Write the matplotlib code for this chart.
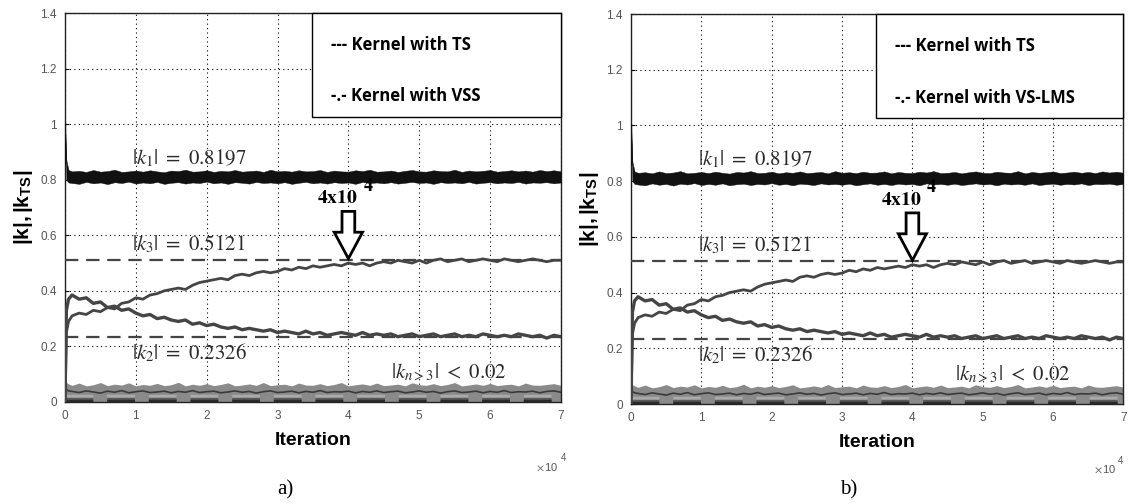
import matplotlib
matplotlib.use("Agg")
import matplotlib.pyplot as plt
from matplotlib.patches import FancyArrow
import numpy as np

plt.rcParams['font.family'] = ['Liberation Sans', 'DejaVu Sans']
plt.rcParams['mathtext.fontset'] = 'custom'
plt.rcParams['mathtext.rm'] = 'STIXGeneral'
plt.rcParams['mathtext.it'] = 'STIXGeneral:italic'
plt.rcParams['mathtext.bf'] = 'STIXGeneral:bold'
plt.rcParams['mathtext.sf'] = 'Liberation Sans:bold'

# iterations in units of 10^4
iters = [0.0, 0.02, 0.05] + [round(0.1 * i, 1) for i in range(1, 71)]

k1_upper = [1.00, 0.87, 0.835,
            0.830, 0.832, 0.828, 0.835, 0.829, 0.831, 0.836, 0.828, 0.830, 0.833,
            0.829, 0.834, 0.830, 0.827, 0.833, 0.831, 0.836, 0.829, 0.830, 0.834,
            0.828, 0.832, 0.830, 0.835, 0.829, 0.831, 0.833, 0.828, 0.836, 0.830,
            0.832, 0.829, 0.834, 0.830, 0.831, 0.835, 0.828, 0.833, 0.830, 0.829,
            0.834, 0.831, 0.836, 0.829, 0.830, 0.833, 0.828, 0.832, 0.835, 0.830,
            0.829, 0.834, 0.831, 0.830, 0.836, 0.828, 0.833, 0.830, 0.832, 0.835,
            0.829, 0.831, 0.834, 0.830, 0.833, 0.829, 0.835, 0.831, 0.834, 0.830]
k1_lower = [0.98, 0.80, 0.790,
            0.788, 0.785, 0.792, 0.787, 0.790, 0.784, 0.791, 0.788, 0.793, 0.786,
            0.790, 0.787, 0.792, 0.785, 0.789, 0.791, 0.786, 0.790, 0.788, 0.793,
            0.787, 0.790, 0.785, 0.791, 0.789, 0.786, 0.792, 0.788, 0.790, 0.787,
            0.791, 0.785, 0.789, 0.792, 0.787, 0.790, 0.786, 0.791, 0.788, 0.790,
            0.785, 0.792, 0.788, 0.790, 0.787, 0.791, 0.786, 0.789, 0.792, 0.788,
            0.790, 0.785, 0.791, 0.788, 0.790, 0.787, 0.792, 0.786, 0.789, 0.791,
            0.787, 0.790, 0.788, 0.792, 0.786, 0.790, 0.789, 0.791, 0.787, 0.790]

k3_est = [0.0, 0.25, 0.29,
          0.310, 0.320, 0.315, 0.330, 0.325, 0.340, 0.335, 0.355, 0.360, 0.375,
          0.370, 0.385, 0.390, 0.400, 0.405, 0.410, 0.405, 0.420, 0.430, 0.435,
          0.440, 0.445, 0.440, 0.455, 0.460, 0.455, 0.465, 0.470, 0.465, 0.470,
          0.480, 0.475, 0.485, 0.480, 0.490, 0.485, 0.490, 0.495, 0.490, 0.500,
          0.495, 0.500, 0.490, 0.500, 0.505, 0.500, 0.510, 0.505, 0.500, 0.510,
          0.500, 0.510, 0.515, 0.505, 0.510, 0.515, 0.505, 0.510, 0.515, 0.510,
          0.505, 0.515, 0.510, 0.505, 0.510, 0.515, 0.510, 0.505, 0.510, 0.510]

k2_est = [0.0, 0.33, 0.37,
          0.385, 0.370, 0.375, 0.355, 0.360, 0.340, 0.345, 0.330, 0.335, 0.320,
          0.310, 0.315, 0.300, 0.305, 0.295, 0.290, 0.295, 0.280, 0.285, 0.275,
          0.280, 0.270, 0.265, 0.270, 0.260, 0.265, 0.260, 0.255, 0.260, 0.250,
          0.255, 0.250, 0.245, 0.255, 0.245, 0.250, 0.240, 0.245, 0.250, 0.245,
          0.240, 0.250, 0.240, 0.245, 0.240, 0.245, 0.235, 0.240, 0.245, 0.235,
          0.240, 0.245, 0.235, 0.240, 0.245, 0.235, 0.240, 0.235, 0.245, 0.240,
          0.235, 0.240, 0.235, 0.245, 0.240, 0.235, 0.240, 0.230, 0.240, 0.235]

small_upper = [0.12, 0.07, 0.065,
               0.060, 0.068, 0.058, 0.062, 0.070, 0.059, 0.064, 0.061, 0.069, 0.058,
               0.063, 0.060, 0.067, 0.059, 0.062, 0.071, 0.058, 0.064, 0.060, 0.066,
               0.059, 0.063, 0.069, 0.058, 0.061, 0.065, 0.060, 0.070, 0.059, 0.062,
               0.064, 0.058, 0.068, 0.061, 0.060, 0.066, 0.059, 0.063, 0.070, 0.058,
               0.062, 0.065, 0.060, 0.068, 0.059, 0.061, 0.064, 0.058, 0.069, 0.062,
               0.060, 0.066, 0.059, 0.063, 0.070, 0.058, 0.061, 0.065, 0.060, 0.067,
               0.059, 0.062, 0.064, 0.058, 0.068, 0.061, 0.060, 0.063, 0.066, 0.060]
small_mid = [0.10, 0.045, 0.040,
             0.038, 0.034, 0.040, 0.036, 0.032, 0.039, 0.035, 0.041, 0.033, 0.037,
             0.040, 0.034, 0.036, 0.039, 0.033, 0.038, 0.035, 0.041, 0.034, 0.037,
             0.039, 0.033, 0.036, 0.040, 0.035, 0.038, 0.032, 0.037, 0.040, 0.034,
             0.036, 0.039, 0.033, 0.038, 0.035, 0.041, 0.034, 0.037, 0.036, 0.039,
             0.033, 0.038, 0.035, 0.040, 0.034, 0.037, 0.039, 0.033, 0.036, 0.040,
             0.035, 0.038, 0.032, 0.037, 0.040, 0.034, 0.036, 0.039, 0.033, 0.038,
             0.035, 0.041, 0.034, 0.037, 0.036, 0.039, 0.033, 0.038, 0.040, 0.035]

k_true = [0.8197, 0.5121, 0.2326]
small_levels = [0.022, 0.012, 0.004]

yticks = [0, 0.2, 0.4, 0.6, 0.8, 1.0, 1.2, 1.4]
ytick_labels = ['0', '0.2', '0.4', '0.6', '0.8', '1', '1.2', '1.4']
xticks = [0, 1, 2, 3, 4, 5, 6, 7]

legend_lines = ['--- Kernel with TS', ['-.- Kernel with VSS', '-.- Kernel with VS-LMS']]
captions = ['a)', 'b)']

fig = plt.figure(figsize=(11.28, 5.04), dpi=100)
positions = [[0.0576, 0.2024, 0.4397, 0.7718], [0.5594, 0.1984, 0.4366, 0.7738]]

tick_color = '#555555'
for p, pos in enumerate(positions):
    ax = fig.add_axes(pos)
    ax.set_xlim(0, 7)
    ax.set_ylim(0, 1.4)
    ax.set_xticks(xticks)
    ax.set_yticks(yticks)
    ax.set_yticklabels(ytick_labels)
    ax.tick_params(labelsize=8.5, labelcolor=tick_color, length=3, direction='in', pad=6)
    ax.grid(True, color='black', linestyle=(0, (1, 3)), linewidth=0.8)
    for s in ax.spines.values():
        s.set_linewidth(1.0)
        s.set_color('#222222')

    # small coefficients
    ax.fill_between(iters, 0, small_upper, color='#8a8a8a', lw=0, zorder=2)
    ax.plot(iters, small_mid, color='#3a3a3a', lw=1.2, zorder=3)
    for lv, c in zip(small_levels, ['#aaaaaa', '#5a5a5a', '#2a2a2a']):
        ax.axhline(lv, color=c, lw=2.5, ls=(0, (8, 4)), zorder=3)
    ax.plot([0, 0], [0, 0.12], color='#333333', lw=1.5, zorder=3)

    # k1 band
    ax.fill_between(iters, k1_lower, k1_upper, color='#111111', lw=0.3, edgecolor='#111111', zorder=4)
    ax.plot([0, 0.01], [1.0, 0.86], color='#111111', lw=1.5, zorder=4)

    # true values (dashed)
    for kv in k_true[1:]:
        ax.axhline(kv, color='#444444', lw=1.6, ls=(0, (6, 3.5)), zorder=3)

    # estimates
    ax.plot(iters, k3_est, color='#454545', lw=2.0, zorder=5)
    ax.plot(iters, k2_est, color='#454545', lw=2.4, zorder=5)

    # annotations
    tc = '#2b2b2b'
    ax.text(0.95, 0.84, r'$|k_1|\ =\ 0.8197$', fontsize=15, color=tc, ha='left', va='bottom', zorder=6)
    ax.text(0.95, 0.53, r'$|k_3|\ =\ 0.5121$', fontsize=15, color=tc, ha='left', va='bottom', zorder=6)
    ax.text(0.95, 0.218, r'$|k_2|\ =\ 0.2326$', fontsize=15, color=tc, ha='left', va='top', zorder=6)
    ax.text(4.6, 0.07, r'$|k_{n>3}|\ <\ 0.02$', fontsize=15, color=tc, ha='left', va='bottom', zorder=6)

    ax.text(3.84, 0.70, r'$\mathbf{4x10}$', fontsize=14, ha='center', va='bottom', zorder=6)
    ax.text(4.2, 0.745, r'$\mathbf{4}$', fontsize=13, ha='left', va='bottom', zorder=6)
    arr = FancyArrow(4.0, 0.686, 0.0, -0.17, width=0.18, head_width=0.4,
                     head_length=0.095, length_includes_head=True,
                     facecolor='white', edgecolor='black', lw=2.0, zorder=7)
    ax.add_patch(arr)

    # legend box
    ax.add_patch(plt.Rectangle((3.48, 1.025), 3.52, 0.375, transform=ax.transData,
                               facecolor='white', edgecolor='black', lw=1.0, zorder=8, clip_on=False))
    ax.text(3.75, 1.285, legend_lines[0], fontsize=12, fontfamily='Open Sans', fontweight='bold',
            ha='left', va='center', zorder=9)
    ax.text(3.75, 1.10, legend_lines[1][p], fontsize=12, fontfamily='Open Sans', fontweight='bold',
            ha='left', va='center', zorder=9)

    ax.set_xlabel('Iteration', fontsize=14, fontfamily='Liberation Sans', fontweight='bold',
                  labelpad=7)
    ax.set_ylabel(r'$\mathsf{|k|,|k}_{\mathsf{TS}}\mathsf{|}$', fontsize=15, labelpad=4)
    xr = 0.995 if p == 0 else 0.985
    ax.text(xr, -0.168, r'$\times\,$10', transform=ax.transAxes, fontsize=8, color=tick_color,
            ha='right', va='center', fontfamily='Liberation Sans')
    ax.text(xr + 0.004, -0.145, '4', transform=ax.transAxes, fontsize=7, color=tick_color,
            ha='left', va='center')

fig.text(0.2527, 0.028, captions[0], fontsize=15, fontfamily='Liberation Serif', ha='center', va='center')
fig.text(0.752, 0.028, captions[1], fontsize=15, fontfamily='Liberation Serif', ha='center', va='center')

fig.savefig('out.png', dpi=100)
